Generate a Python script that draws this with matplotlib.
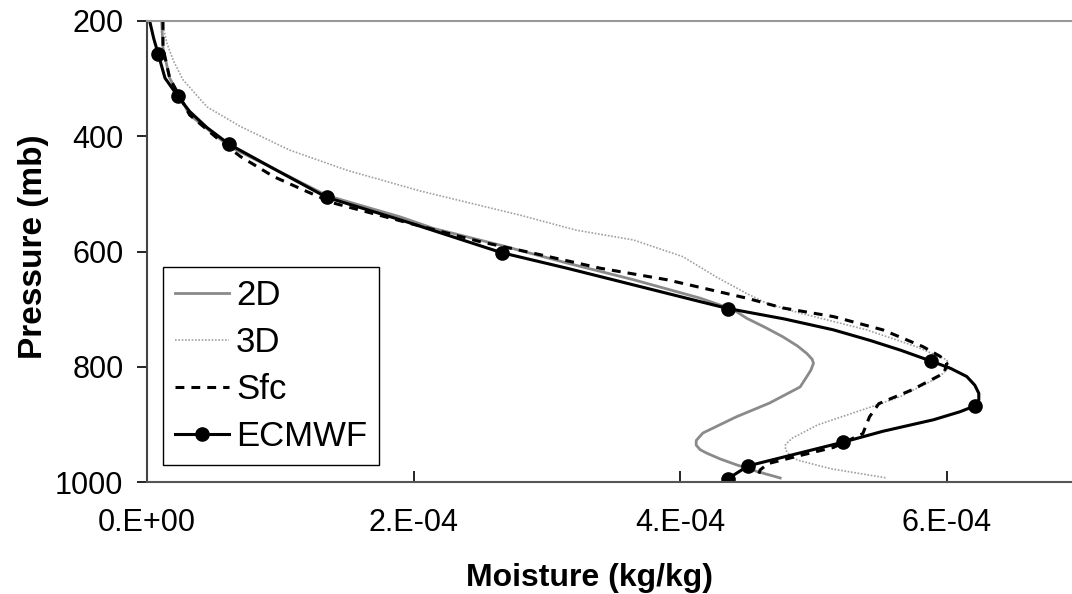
import matplotlib
matplotlib.use('Agg')
import matplotlib.pyplot as plt

plt.rcParams['font.family'] = ['Liberation Sans', 'DejaVu Sans']

# moisture in units of 1E-4 kg/kg, pressure in mb
p_2d = [200, 247, 299, 363, 418, 462, 503, 540, 560, 589, 620, 649, 681, 701, 716,
        732, 748, 764, 777, 787, 794, 806, 817, 835, 863, 887, 915, 928, 936, 944, 950, 960, 970, 982, 993]
q_2d = [0.11, 0.12, 0.17, 0.32, 0.62, 1.00, 1.35, 1.90, 2.15, 2.65, 3.15, 3.65, 4.15, 4.40, 4.50,
        4.64, 4.77, 4.88, 4.95, 4.99, 5.00, 4.98, 4.95, 4.90, 4.67, 4.42, 4.17, 4.12, 4.12, 4.15, 4.20, 4.30, 4.42, 4.58, 4.75]

p_3d = [198, 239, 270, 302, 349, 383, 424, 459, 495, 537, 563, 580, 609, 644, 673, 690,
        707, 736, 765, 788, 800, 812, 823, 852, 869, 901, 924, 935, 944, 953, 962, 977, 993]
q_3d = [0.11, 0.15, 0.20, 0.27, 0.45, 0.70, 1.07, 1.50, 2.05, 2.80, 3.22, 3.65, 4.02, 4.27, 4.50, 4.65,
        4.90, 5.40, 5.77, 6.00, 6.02, 5.97, 5.90, 5.65, 5.44, 5.03, 4.84, 4.79, 4.79, 4.82, 4.88, 5.13, 5.55]

p_sfc = [200, 247, 299, 363, 412, 435, 470, 496, 516, 551, 583, 603, 629, 649, 681,
         698, 713, 736, 765, 782, 794, 811, 840, 864, 887, 916, 940, 954, 968, 979, 993]
q_sfc = [0.12, 0.12, 0.17, 0.32, 0.57, 0.70, 0.95, 1.20, 1.40, 1.97, 2.50, 2.90, 3.40, 3.90, 4.50,
         4.77, 5.15, 5.52, 5.82, 5.95, 6.00, 5.98, 5.74, 5.49, 5.42, 5.37, 5.15, 4.90, 4.66, 4.60, 4.58]

p_ecm = [200, 230, 258, 299, 330, 357, 385, 414, 460, 506, 545, 602, 629, 658, 687, 699,
         717, 736, 754, 771, 790, 803, 817, 832, 846, 858, 868, 878, 892, 912, 931, 972, 994]
q_ecm = [0.02, 0.05, 0.085, 0.135, 0.23, 0.32, 0.45, 0.617, 0.98, 1.348, 1.90, 2.66, 3.15, 3.65, 4.15, 4.36,
         4.78, 5.15, 5.42, 5.65, 5.88, 6.03, 6.15, 6.21, 6.24, 6.24, 6.21, 6.10, 5.90, 5.52, 5.22, 4.51, 4.36]
ecm_levels = [2, 4, 7, 9, 11, 15, 20, 26, 30, 31, 32]   # indices that carry a marker

x_ticks = [0, 2, 4, 6]
x_ticklabels = ['0.E+00', '2.E-04', '4.E-04', '6.E-04']
y_ticks = [200, 400, 600, 800, 1000]

fig = plt.figure(figsize=(10.72, 5.94), dpi=100)
ax = fig.add_axes([147/1072, 1 - 482/594, 1 - 147/1072, (482 - 21)/594])

l3d, = ax.plot(q_3d, p_3d, color='#a0a0a0', lw=1.2, dashes=(1, 1), label='3D')
l2d, = ax.plot(q_2d, p_2d, color='#8a8a8a', lw=2.0, label='2D')
lsfc, = ax.plot(q_sfc, p_sfc, color='black', lw=2.2, dashes=(2.9, 2.3), label='Sfc')
lecm, = ax.plot(q_ecm, p_ecm, color='black', lw=2.2, marker='o', markersize=9.5,
                markevery=ecm_levels, label='ECMWF')

ax.set_xlim(0, 925/133.3)
ax.set_ylim(1000, 200)
ax.set_xticks(x_ticks)
ax.set_xticklabels(x_ticklabels)
ax.set_yticks(y_ticks)

ax.tick_params(axis='x', direction='in', length=8, width=1.2, labelsize=22, pad=19)
ax.tick_params(axis='y', direction='out', length=7, width=1.2, labelsize=22, pad=10)

ax.spines['right'].set_visible(False)
ax.spines['top'].set_color('#999999')
ax.spines['top'].set_linewidth(1.5)
ax.spines['left'].set_color('#444444')
ax.spines['left'].set_linewidth(1.5)
ax.spines['bottom'].set_color('#555555')
ax.spines['bottom'].set_linewidth(1.5)

ax.set_xlabel('Moisture (kg/kg)', fontsize=23, fontweight='bold')
ax.xaxis.set_label_coords((590 - 147)/925, -0.175)
ax.set_ylabel('Pressure (mb)', fontsize=24, fontweight='bold')
ax.yaxis.set_label_coords(-0.106, 0.51)

leg = ax.legend(handles=[l2d, l3d, lsfc, lecm], loc='lower left',
                bbox_to_anchor=(16/925, 17/461), borderaxespad=0, fontsize=25,
                handlelength=1.55, handletextpad=0.2, labelspacing=0.4, borderpad=0.35,
                fancybox=False, framealpha=1, edgecolor='black')
leg.get_frame().set_linewidth(1.0)

fig.savefig('out.png', dpi=100)
